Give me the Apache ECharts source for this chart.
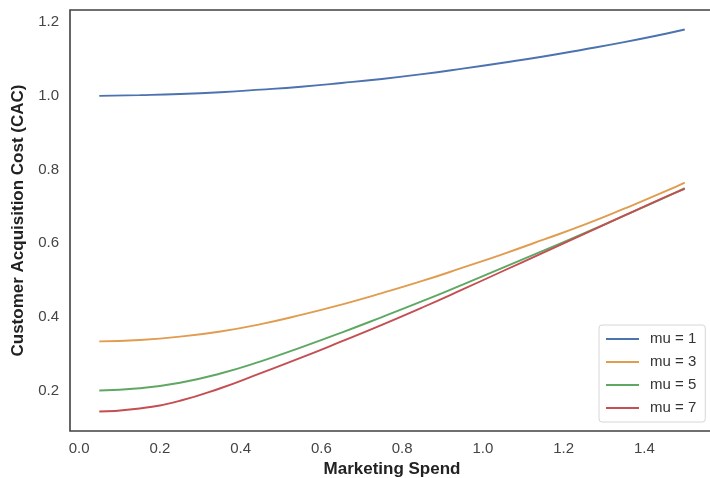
<!DOCTYPE html>
<html>
<head>
<meta charset="utf-8">
<script src="https://cdn.jsdelivr.net/npm/echarts@6/dist/echarts.min.js"></script>
<style>
  html, body { margin: 0; padding: 0; background: #fff; }
  #chart { width: 710px; height: 478px; }
</style>
</head>
<body>
<div id="chart"></div>
<script>
// Marketing spend sample points
const spend = [0.05, 0.15, 0.25, 0.35, 0.45, 0.55, 0.65, 0.75, 0.85, 0.95, 1.05, 1.15, 1.25, 1.35, 1.45, 1.5];

// Customer acquisition cost for each mu
const cacMu1 = [1.000, 1.002, 1.005, 1.010, 1.017, 1.025, 1.035, 1.046, 1.059, 1.074, 1.090, 1.107, 1.126, 1.146, 1.168, 1.180];
const cacMu3 = [0.334, 0.338, 0.347, 0.361, 0.381, 0.406, 0.434, 0.465, 0.498, 0.534, 0.571, 0.610, 0.650, 0.694, 0.740, 0.765];
const cacMu5 = [0.201, 0.207, 0.222, 0.247, 0.280, 0.318, 0.358, 0.400, 0.443, 0.488, 0.534, 0.580, 0.627, 0.675, 0.724, 0.750];
const cacMu7 = [0.144, 0.152, 0.173, 0.207, 0.248, 0.290, 0.334, 0.379, 0.426, 0.475, 0.525, 0.575, 0.625, 0.675, 0.725, 0.748];

const seriesNames = ['mu = 1', 'mu = 3', 'mu = 5', 'mu = 7'];
const seriesValues = [cacMu1, cacMu3, cacMu5, cacMu7];
const colors = ['#4C72B0', '#E19C50', '#5FA864', '#C44E52'];

// Tick labels
const xTicks = [0.0, 0.2, 0.4, 0.6, 0.8, 1.0, 1.2, 1.4];
const yTicks = [0.2, 0.4, 0.6, 0.8, 1.0, 1.2];

const font = '"Liberation Sans", Arial, sans-serif';

const chart = echarts.init(document.getElementById('chart'), null, { renderer: 'canvas' });

chart.setOption({
  animation: false,
  color: colors,
  grid: {
    left: 70, top: 10, right: -4, bottom: 47,
    containLabel: false,
    outerBoundsMode: 'none',
    show: true, borderColor: '#404040', borderWidth: 1.6, backgroundColor: '#fff'
  },
  xAxis: {
    type: 'value',
    min: -0.0225, max: 1.5725,
    name: 'Marketing Spend',
    nameLocation: 'middle',
    nameGap: 27,
    nameTextStyle: { fontFamily: font, fontSize: 17, fontWeight: 'bold', color: '#222' },
    axisLine: { show: false },
    axisTick: { show: false },
    splitLine: { show: false },
    axisLabel: {
      customValues: xTicks,
      formatter: v => v.toFixed(1),
      fontFamily: font, fontSize: 15, color: '#444', margin: 10
    }
  },
  yAxis: {
    type: 'value',
    min: 0.091, max: 1.233,
    name: 'Customer Acquisition Cost (CAC)',
    nameLocation: 'middle',
    nameRotate: 90,
    nameGap: 40,
    nameTextStyle: { fontFamily: font, fontSize: 17, fontWeight: 'bold', color: '#222' },
    axisLine: { show: false },
    axisTick: { show: false },
    splitLine: { show: false },
    axisLabel: {
      customValues: yTicks,
      formatter: v => v.toFixed(1),
      fontFamily: font, fontSize: 15, color: '#444', margin: 11
    }
  },
  legend: {
    orient: 'vertical',
    left: 599, top: 325,
    padding: [6, 9, 6, 7],
    itemGap: 7,
    itemWidth: 33,
    itemHeight: 2,
    icon: 'rect',
    backgroundColor: '#fff',
    borderColor: '#d6d6d6',
    borderWidth: 1,
    borderRadius: 3,
    textStyle: { fontFamily: font, fontSize: 15, color: '#333', lineHeight: 16, padding: [0, 0, 0, 6] },
    data: seriesNames
  },
  series: seriesNames.map((name, i) => ({
    name: name,
    type: 'line',
    smooth: true,
    symbol: 'none',
    lineStyle: { width: 1.9, color: colors[i] },
    data: spend.map((x, j) => [x, seriesValues[i][j]])
  }))
});
</script>
</body>
</html>
